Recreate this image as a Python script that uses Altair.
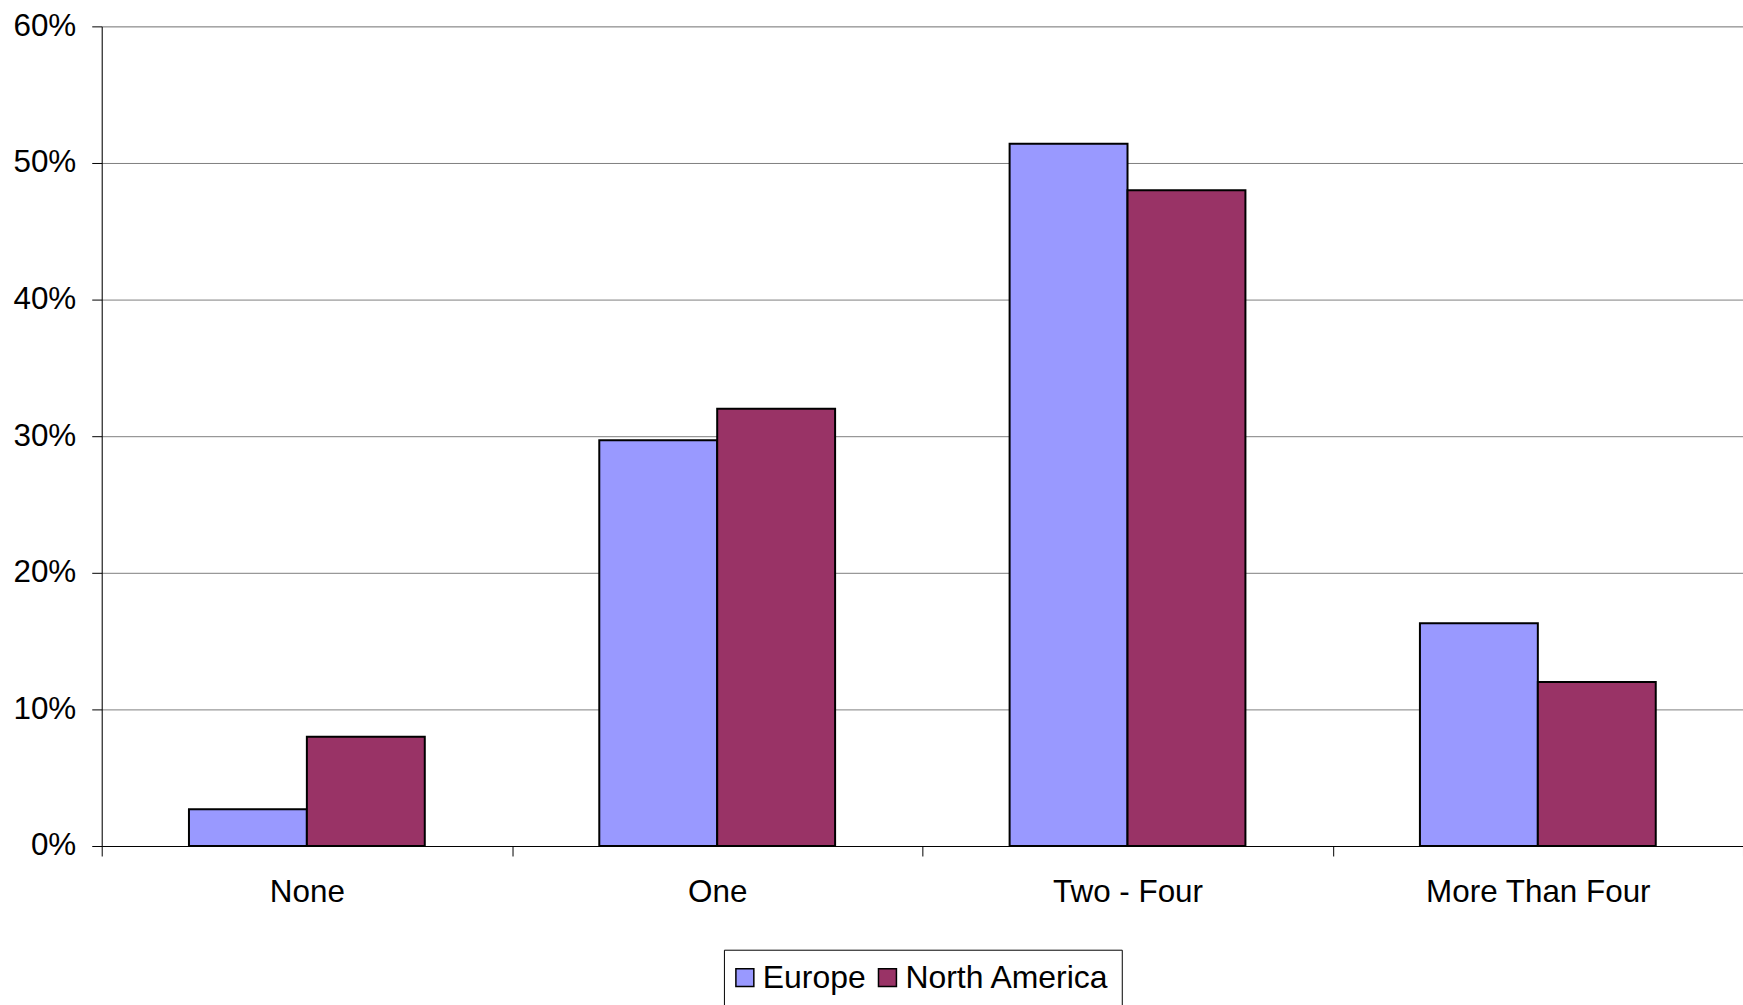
import altair as alt
import pandas as pd

# Number of items per respondent, by region (percent of respondents)
categories = ["None", "One", "Two - Four", "More Than Four"]
regions = ["Europe", "North America"]
europe = [2.7, 29.7, 51.4, 16.3]
north_america = [8.0, 32.0, 48.0, 12.0]
region_colors = ["#9999FF", "#993366"]
y_ticks = [0, 10, 20, 30, 40, 50, 60]

rows = []
for i, cat in enumerate(categories):
    rows.append({"category": cat, "region": regions[0], "share": europe[i]})
    rows.append({"category": cat, "region": regions[1], "share": north_america[i]})
df = pd.DataFrame(rows)

FONT = "Liberation Sans"
FONT_SIZE = 31.5
LEGEND_FONT_SIZE = 32

chart = (
    alt.Chart(df)
    .mark_bar(stroke="black", strokeWidth=2)
    .encode(
        x=alt.X(
            "category:N",
            sort=categories,
            scale=alt.Scale(paddingInner=0, paddingOuter=0),
            axis=alt.Axis(
                title=None,
                labelAngle=0,
                labelLimit=0,
                tickBand="extent",
                grid=False,
                domainColor="#000000",
                tickColor="#000000",
                tickSize=10,
                labelPadding=21,
                labelFont=FONT,
                labelFontSize=FONT_SIZE,
                labelColor="#000000",
            ),
        ),
        xOffset=alt.XOffset(
            "region:N",
            sort=regions,
            scale=alt.Scale(paddingInner=0, paddingOuter=0.74),
        ),
        y=alt.Y(
            "share:Q",
            scale=alt.Scale(domain=[0, 60], nice=False),
            axis=alt.Axis(
                title=None,
                values=y_ticks,
                labelExpr="datum.value + '%'",
                labelLimit=0,
                grid=True,
                gridColor="#808080",
                gridWidth=1,
                domainColor="#000000",
                tickColor="#000000",
                tickSize=10,
                labelPadding=16,
                labelFont=FONT,
                labelFontSize=FONT_SIZE,
                labelColor="#000000",
            ),
        ),
        color=alt.Color(
            "region:N",
            sort=regions,
            scale=alt.Scale(domain=regions, range=region_colors),
            legend=alt.Legend(
                title=None,
                orient="none",
                legendX=624,
                legendY=926,
                direction="horizontal",
                symbolType="square",
                symbolSize=324,
                symbolStrokeColor="black",
                symbolStrokeWidth=1.5,
                symbolOffset={"expr": "-7"},
                labelFont=FONT,
                labelFontSize=LEGEND_FONT_SIZE,
                labelColor="#000000",
                labelLimit=0,
                labelOffset=2,
                columnPadding=9,
                padding=12,
                strokeColor="#000000",
                fillColor="white",
            ),
        ),
    )
    .properties(
        width=1646,
        height=822,
        autosize=alt.AutoSizeParams(type="none"),
        padding={"left": 102, "top": 25, "right": 0, "bottom": 158},
    )
    .configure_view(strokeWidth=0)
    .configure(background="white")
)

chart.save("out.html", embed_options={"renderer": "svg", "actions": False})
